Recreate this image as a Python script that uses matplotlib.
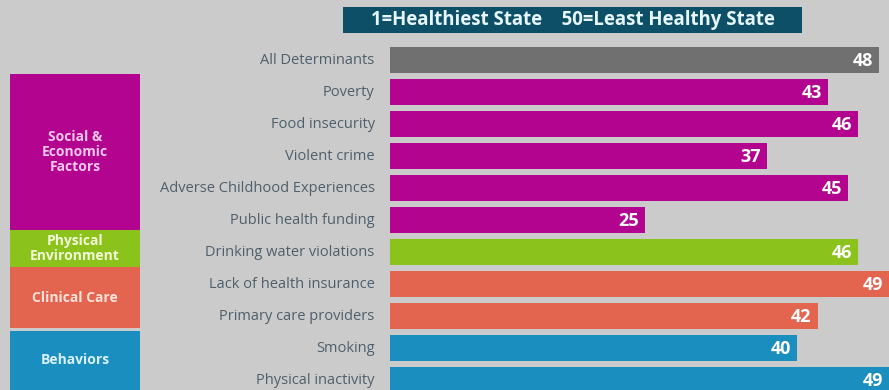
import matplotlib
matplotlib.use("Agg")
import matplotlib.pyplot as plt
from matplotlib.patches import Rectangle

# Measures and state ranks (1 = healthiest, 50 = least healthy)
measures = [
    "All Determinants", "Poverty", "Food insecurity", "Violent crime",
    "Adverse Childhood Experiences", "Public health funding",
    "Drinking water violations", "Lack of health insurance",
    "Primary care providers", "Smoking", "Physical inactivity",
]
ranks = [48, 43, 46, 37, 45, 25, 46, 49, 42, 40, 49]
groups = ["all", "social", "social", "social", "social", "social",
          "physical", "clinical", "clinical", "behaviors", "behaviors"]

group_colors = {
    "all": "#707070",
    "social": "#b2048f",
    "physical": "#8cc21c",
    "clinical": "#e4654f",
    "behaviors": "#1b8ec0",
}
bg = "#cbcbcb"

plt.rcParams["font.family"] = ["Open Sans", "DejaVu Sans"]

W, H = 889, 390
fig = plt.figure(figsize=(W / 100, H / 100), dpi=100, facecolor=bg)

# bar area: rank 0 at x=390px, rank 49 at the right edge; rows 32px apart
ax = fig.add_axes([390 / W, 0, 1 - 390 / W, 1])
ax.set_facecolor(bg)
ypos = list(range(len(measures)))
ax.barh(ypos, ranks, height=0.8,
        color=[group_colors[g] for g in groups])
ax.set_xlim(0, 49)
ax.set_ylim((H - 60) / 32, -60 / 32)
ax.axis("off")

for y, r in zip(ypos, ranks):
    ax.text(r - 0.6, y + 0.02, str(r), ha="right", va="center",
            color="white", fontsize=13, fontweight="bold")

# measure labels, right aligned just left of the bars
for y, m in zip(ypos, measures):
    ax.text(-1.5, y, m, ha="right", va="center", color="#4f5f6b",
            fontsize=10.5, clip_on=False)

# header strip
fig.patches.append(Rectangle((343 / W, 1 - 33 / H), 459 / W, 26 / H,
                             transform=fig.transFigure,
                             facecolor="#0d4f66", edgecolor="none"))
fig.text(573 / W, 1 - 20 / H, "1=Healthiest State    50=Least Healthy State",
         ha="center", va="center", color="#e6f6fb", fontsize=13.4,
         fontweight="bold")

# category boxes on the left
boxes = [
    ("Social &\nEconomic\nFactors", 74, 230, group_colors["social"], "#f4c6ea"),
    ("Physical\nEnvironment", 230, 267, group_colors["physical"], "#f3f8d8"),
    ("Clinical Care", 267, 328, group_colors["clinical"], "#fde3da"),
    ("Behaviors", 331, 390, group_colors["behaviors"], "#d9f1fb"),
]
for label, top, bottom, col, tcol in boxes:
    fig.patches.append(Rectangle((10 / W, 1 - bottom / H), 130 / W,
                                 (bottom - top) / H,
                                 transform=fig.transFigure,
                                 facecolor=col, edgecolor="none"))
    fig.text(75 / W, 1 - (top + bottom) / 2 / H, label, ha="center",
             va="center", color=tcol, fontsize=10, fontweight="bold",
             linespacing=1.05)

fig.savefig("out.png", dpi=100, facecolor=bg)
